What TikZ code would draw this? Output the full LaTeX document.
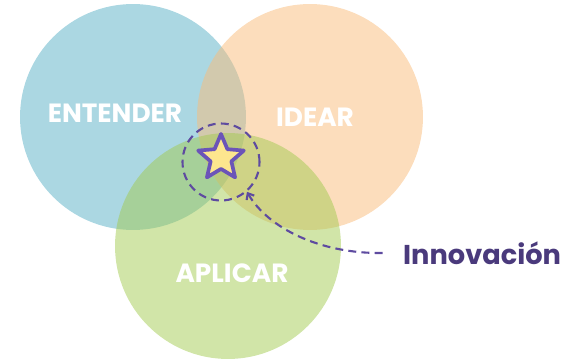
\documentclass[tikz,border=0pt]{standalone}
\usepackage{fontspec}
\setmainfont{Poppins}
\usepackage{tikz}
\usetikzlibrary{arrows.meta, positioning, shapes.geometric}
\definecolor{entenderblue}{RGB}{87,175,197}
\definecolor{idearorange}{RGB}{249,187,121}
\definecolor{aplicargreen}{RGB}{163,203,81}
\definecolor{starfill}{RGB}{253,230,142}
\definecolor{starline}{RGB}{107,84,184}
\definecolor{dashline}{RGB}{94,75,160}
\definecolor{innotext}{RGB}{74,58,124}

\begin{document}
\begin{tikzpicture}[x=0.02cm,y=-0.02cm,
            zone/.style={circle,minimum size=4.52cm,inner sep=0pt,fill opacity=0.5},
            zonelabel/.style={anchor=base,text=white,font=\bfseries\fontsize{15}{18}\selectfont},
            halo/.style={circle,minimum size=1.54cm,inner sep=0pt,draw=dashline,line width=1.2pt,dash pattern=on 4.5pt off 3pt},
            spark/.style={star,star points=5,star point ratio=2.2,minimum size=0.96cm,inner sep=0pt,
                fill=starfill,draw=starline,line width=2.1pt,line join=round},
            callout/.style={anchor=base west,text=innotext,font=\bfseries\fontsize{15.5}{18}\selectfont}]
            \useasboundingbox (0,0) rectangle (571,361);
            % the three circles
            \node[zone,fill=entenderblue] (entender) at (133,117) {};
            \node[zone,fill=idearorange] (idear) at (310,117) {};
            \node[zone,fill=aplicargreen] (aplicar) at (228,246) {};
            \node[zonelabel] (entenderlbl) at (115,123) {ENTENDER};
            \node[zonelabel] (idearlbl) at (315,127) {IDEAR};
            \node[zonelabel] (aplicarlbl) at (232,282) {APLICAR};
            % the centre
            \node[halo] (centre) at (221,162) {};
            \node[spark] (star) at (221,158) {};
            \node[callout] (innovacion) at (397,264) {Innovación};
            \draw[dashline,line width=1.2pt,dash pattern=on 4.5pt off 3pt,{Straight Barb[length=3pt,width=5pt]}-,shorten >=8pt]
                (centre.-49) .. controls (268,228) and (320,254) .. (innovacion.west);
        \end{tikzpicture}
\end{document}
